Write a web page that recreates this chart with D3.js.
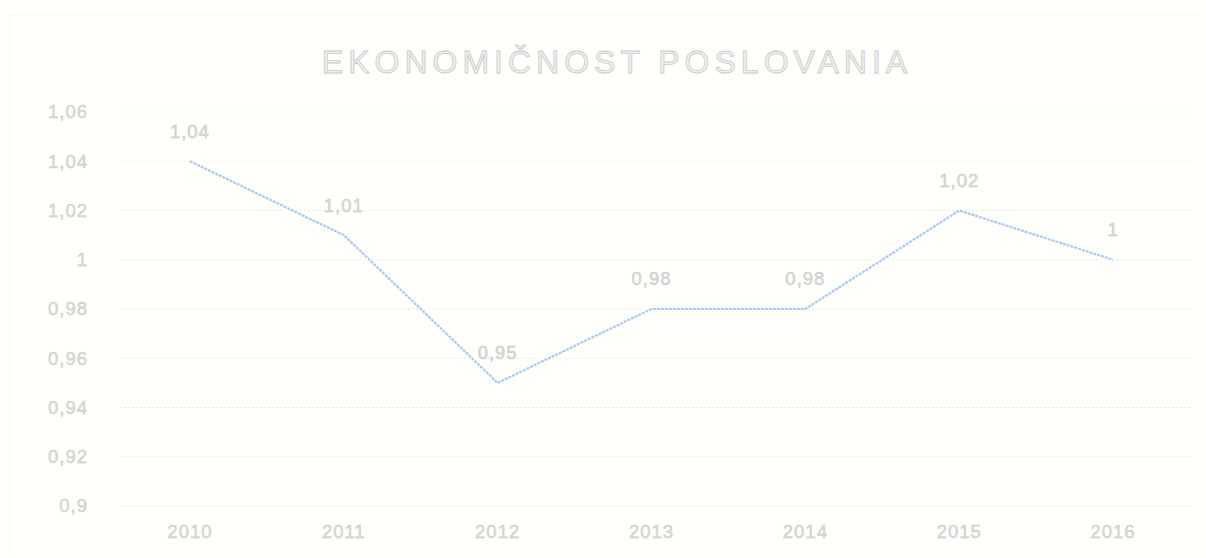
<!DOCTYPE html>
<html><head><meta charset="utf-8">
<script src="https://cdn.jsdelivr.net/npm/d3@7"></script>
<style>
html,body{margin:0;padding:0;background:#fffffc;}
svg{display:block;}
text{font-family:"Liberation Sans",Arial,sans-serif;}
</style></head>
<body>
<svg id="c" width="1206" height="558"></svg>
<script>
const categories = ["2010","2011","2012","2013","2014","2015","2016"];
const values = [1.04, 1.01, 0.95, 0.98, 0.98, 1.02, 1];
const valueLabels = ["1,04","1,01","0,95","0,98","0,98","1,02","1"];
const yTicks = [0.9,0.92,0.94,0.96,0.98,1,1.02,1.04,1.06];
const yTickLabels = ["0,9","0,92","0,94","0,96","0,98","1","1,02","1,04","1,06"];
const title = "EKONOMIČNOST POSLOVANIA";

const svg = d3.select("#c");
const W = 1206, H = 558;
const m = {left:113, right:16, top:112, bottom:52};

svg.append("rect").attr("width",W).attr("height",H).attr("fill","#fffffc");
svg.append("line").attr("x1",10).attr("x2",1200).attr("y1",15).attr("y2",15)
  .attr("stroke","#e6e6e6").attr("stroke-dasharray","1,3");
svg.append("line").attr("x1",10).attr("x2",10).attr("y1",15).attr("y2",558)
  .attr("stroke","#e6e6e6").attr("stroke-dasharray","1,3");

const x = d3.scaleBand().domain(categories).range([m.left, W-m.right]);
const y = d3.scaleLinear().domain([0.9,1.06]).range([H-m.bottom, m.top]);

svg.append("g").selectAll("line").data(yTicks).join("line")
  .attr("x1",120).attr("x2",W-m.right)
  .attr("y1",d=>y(d)).attr("y2",d=>y(d))
  .attr("stroke","#ebebeb").attr("stroke-dasharray","2,2");

svg.append("g").selectAll("text").data(yTicks).join("text")
  .attr("x",88).attr("y",d=>y(d)).attr("dy","0.35em")
  .attr("text-anchor","end").attr("font-size",18.5).attr("letter-spacing",1)
  .attr("fill","#dadada").attr("stroke","#c4c4c4").attr("stroke-width",0.4)
  .text((d,i)=>yTickLabels[i]);

svg.append("g").selectAll("text").data(categories).join("text")
  .attr("x",d=>x(d)+x.bandwidth()/2).attr("y",H-26)
  .attr("dy","0.35em")
  .attr("text-anchor","middle").attr("font-size",18.5).attr("letter-spacing",1)
  .attr("fill","#dadada").attr("stroke","#c4c4c4").attr("stroke-width",0.4)
  .text(d=>d);

const line = d3.line().x((d,i)=>x(categories[i])+x.bandwidth()/2).y(d=>y(d));
svg.append("path").datum(values).attr("d",line)
  .attr("fill","none").attr("stroke","#a9c9ee").attr("stroke-width",2.2)
  .attr("stroke-dasharray","3,1").attr("stroke-linejoin","round");

svg.append("g").selectAll("text").data(values).join("text")
  .attr("x",(d,i)=>x(categories[i])+x.bandwidth()/2)
  .attr("y",d=>y(d)-30).attr("dy","0.35em")
  .attr("text-anchor","middle").attr("font-size",18.5).attr("letter-spacing",1)
  .attr("fill","#dadada").attr("stroke","#c0c0c0").attr("stroke-width",0.4)
  .text((d,i)=>valueLabels[i]);

svg.append("text").attr("x",617).attr("y",62).attr("dy","0.35em").attr("text-anchor","middle")
  .attr("font-size",32).attr("letter-spacing",5)
  .attr("fill","#f0f0f0").attr("stroke","#c8c8c8").attr("stroke-width",0.8)
  .text(title);
</script>
</body></html>
